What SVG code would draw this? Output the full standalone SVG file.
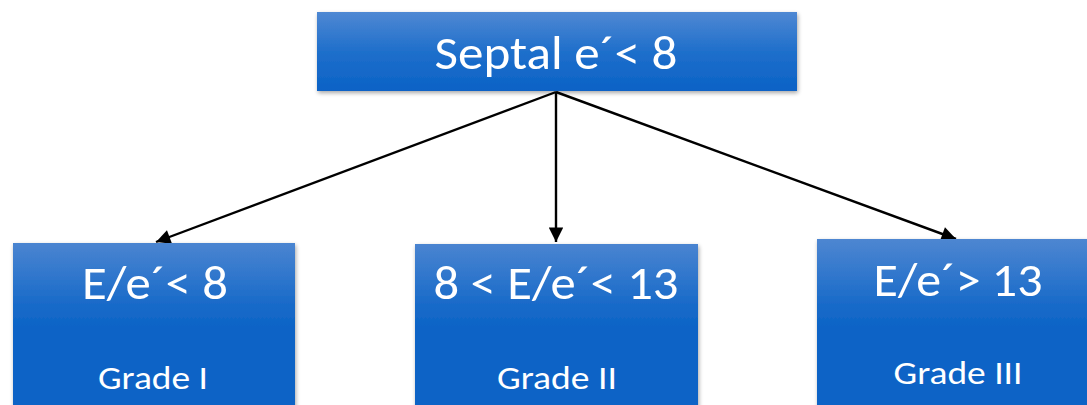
<svg xmlns="http://www.w3.org/2000/svg" width="1087" height="405" viewBox="0 0 1087 405">
  <defs>
    <linearGradient id="gTop" x1="0" y1="0" x2="0" y2="1">
      <stop offset="0" stop-color="#4f88d3"/>
      <stop offset="0.5" stop-color="#1f6fcb"/>
      <stop offset="1" stop-color="#0a62c6"/>
    </linearGradient>
    <linearGradient id="gBox" gradientUnits="userSpaceOnUse" x1="0" y1="240" x2="0" y2="330">
      <stop offset="0" stop-color="#4d86d1"/>
      <stop offset="0.7" stop-color="#1a6bc9"/>
      <stop offset="1" stop-color="#0b63c6"/>
    </linearGradient>
    <filter id="shadow" x="-5%" y="-10%" width="110%" height="130%">
      <feGaussianBlur in="SourceAlpha" stdDeviation="2"/>
      <feOffset dx="1" dy="2" result="b"/>
      <feComponentTransfer><feFuncA type="linear" slope="0.35"/></feComponentTransfer>
      <feMerge><feMergeNode/><feMergeNode in="SourceGraphic"/></feMerge>
    </filter>
    <marker id="arrow" viewBox="0 0 10 10" refX="10" refY="5" markerWidth="6.5" markerHeight="6" markerUnits="strokeWidth" orient="auto">
      <path d="M0,0 L10,5 L0,10 z" fill="#000"/>
    </marker>
  </defs>
  <style>
    .box { filter: url(#shadow); }
    .t { font-family: Calibri, Carlito, Lato, "Open Sans", sans-serif; fill: #ffffff; text-anchor: middle; }
    .big { font-size: 47px; }
    .small { font-size: 32px; }
    .conn { stroke: #000; stroke-width: 2.4; fill: none; marker-end: url(#arrow); }
  </style>

  <g id="connectors">
    <line class="conn" x1="556" y1="92" x2="156" y2="242"/>
    <line class="conn" x1="556" y1="92" x2="556" y2="242"/>
    <line class="conn" x1="556" y1="92" x2="956" y2="239"/>
  </g>

  <g id="node-septal">
    <rect class="box" x="317" y="12" width="480" height="79" fill="url(#gTop)"/>
    <text class="t big" x="556" y="69" textLength="243" lengthAdjust="spacingAndGlyphs">Septal e´&lt; 8</text>
  </g>

  <g id="node-grade1">
    <rect class="box" x="13" y="243" width="282" height="180" fill="url(#gBox)"/>
    <text class="t big" x="155" y="299" textLength="146" lengthAdjust="spacingAndGlyphs">E/e´&lt; 8</text>
    <text class="t small" x="153" y="389" textLength="110" lengthAdjust="spacingAndGlyphs">Grade I</text>
  </g>

  <g id="node-grade2">
    <rect class="box" x="415" y="244" width="283" height="180" fill="url(#gBox)"/>
    <text class="t big" x="556" y="299" textLength="245" lengthAdjust="spacingAndGlyphs">8 &lt; E/e´&lt; 13</text>
    <text class="t small" x="557" y="389" textLength="120" lengthAdjust="spacingAndGlyphs">Grade II</text>
  </g>

  <g id="node-grade3">
    <rect class="box" x="817" y="239" width="290" height="180" fill="url(#gBox)"/>
    <text class="t big" x="958" y="296" textLength="169" lengthAdjust="spacingAndGlyphs">E/e´&gt; 13</text>
    <text class="t small" x="958" y="384" textLength="129" lengthAdjust="spacingAndGlyphs">Grade III</text>
  </g>
</svg>
